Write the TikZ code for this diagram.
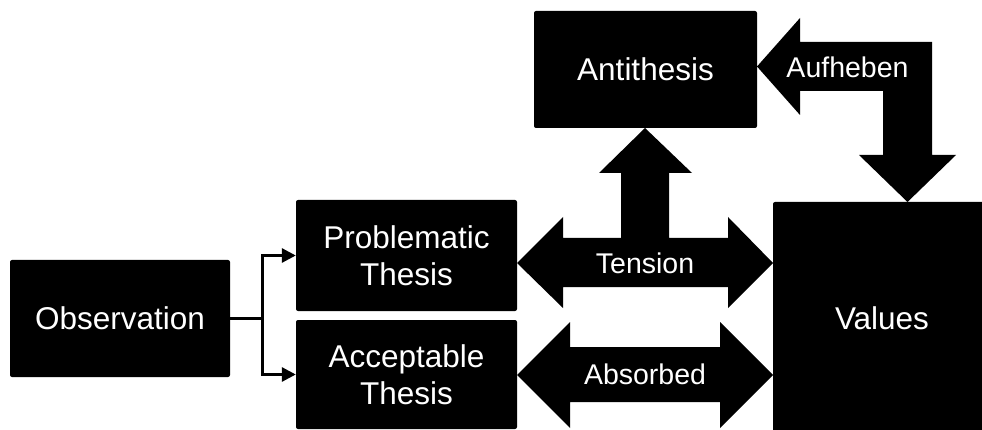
\documentclass[tikz,border=0pt]{standalone}
\usepackage{fontspec}
\setmainfont{Liberation Sans}
\usetikzlibrary{arrows.meta}
\begin{document}
\begin{tikzpicture}[x=1pt,y=-1pt,
  box/.style={fill=black, rounded corners=2pt, text=white, align=center,
    inner sep=0pt, font=\fontsize{31.5}{37}\selectfont},
  blockarrow/.style={fill=black},
  arrowlabel/.style={text=white, inner sep=0pt, font=\fontsize{28.5}{34}\selectfont},
  link/.style={line width=3pt, -{Triangle[length=14pt,width=14pt]}}]
\useasboundingbox (0,0) rectangle (982,430);

% boxes
\node[box, minimum width=220pt, minimum height=117pt] (obs)   at (120,318.5) {Observation};
\node[box, minimum width=221pt, minimum height=111pt] (prob)  at (406.5,255.5) {Problematic\\Thesis};
\node[box, minimum width=221pt, minimum height=109pt] (acc)   at (406.5,374.5) {Acceptable\\Thesis};
\node[box, minimum width=223pt, minimum height=117pt] (anti)  at (645.5,69.5) {Antithesis};
\begin{scope}
\clip (0,0) rectangle (982,430);
\node[box, minimum width=218pt, minimum height=232pt] (values) at (882,318) {Values};
\end{scope}

% tension: double arrow with a branch up to the antithesis
\fill[blockarrow] (517,263) -- (563,217) -- (563,238) -- (621,238) -- (621,173)
  -- (599,173) -- (645,128) -- (692,173) -- (669,173) -- (669,238) -- (728,238)
  -- (728,217) -- (773,263) -- (728,308) -- (728,287) -- (563,287) -- (563,308) -- cycle;
\node[arrowlabel] (tension) at (645,263) {Tension};

% absorbed: double arrow
\fill[blockarrow] (517,375) -- (570,322) -- (570,347) -- (720,347) -- (720,322)
  -- (773,375) -- (720,428) -- (720,402) -- (570,402) -- (570,428) -- cycle;
\node[arrowlabel] (absorbed) at (645,374) {Absorbed};

% aufheben: bent arrow between antithesis and values
\fill[blockarrow] (757,66.5) -- (800,18) -- (800,42) -- (932,42) -- (932,155)
  -- (956,155) -- (907.5,202) -- (859,155) -- (883,155) -- (883,91) -- (800,91)
  -- (800,115) -- cycle;
\node[arrowlabel] (aufheben) at (847.5,67) {Aufheben};

% observation branches to both theses
\coordinate (split) at (262,318.5);
\draw[line width=3pt] (obs.east) -- (split);
\draw[link] (split) |- (prob.west);
\draw[link] (split) |- (acc.west);
\end{tikzpicture}
\end{document}
